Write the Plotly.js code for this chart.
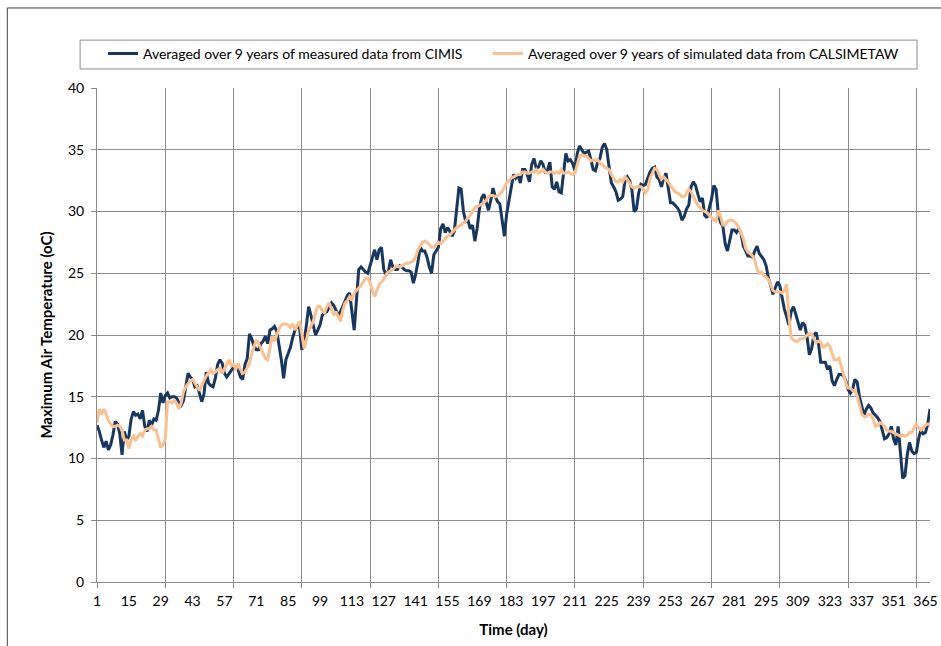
<!DOCTYPE html>
<html>
<head>
<meta charset="utf-8">
<script src="https://cdn.plot.ly/plotly-3.0.1.min.js"></script>
<style>
  html, body { margin: 0; padding: 0; background: #ffffff; }
  #chart { width: 941px; height: 646px; }
</style>
</head>
<body>
<div id="chart"></div>
<script>
// ---- Data ----
const seriesNames = [
  "Averaged over 9 years of measured data from CIMIS",
  "Averaged over 9 years of simulated data from CALSIMETAW"
];

const xTickLabels = [1, 15, 29, 43, 57, 71, 85, 99, 113, 127, 141, 155, 169, 183, 197, 211, 225, 239, 253, 267, 281, 295, 309, 323, 337, 351, 365];
const xGridDays = [1, 31, 61, 91, 121, 151, 181, 211, 241, 271, 301, 331, 361];
const yTickValues = [0, 5, 10, 15, 20, 25, 30, 35, 40];

// measured (CIMIS), day 1 .. 367
const measured = [
  12.7, 12.2, 11.5, 10.9, 11.4, 10.7, 11.1, 11.9, 13.0, 12.8,
  12.0, 10.3, 12.2, 11.5, 11.8, 13.2, 13.8, 13.5, 13.6, 13.2,
  13.9, 12.6, 12.2, 13.1, 12.7, 13.2, 13.1, 13.9, 15.3, 14.5,
  15.1, 15.3, 14.9, 15.0, 15.0, 14.9, 14.5, 14.3, 14.7, 15.9,
  16.9, 16.6, 16.4, 15.8, 15.9, 15.3, 14.6, 15.2, 17.0, 16.1,
  15.9, 15.8, 16.5, 17.6, 18.0, 17.7, 16.9, 16.6, 16.9, 17.2,
  17.4, 17.4, 17.2, 16.6, 16.4, 17.6, 18.1, 20.1, 19.7, 19.1,
  18.8, 18.8, 19.3, 19.5, 19.9, 19.3, 20.4, 20.5, 20.7, 20.3,
  19.2, 18.0, 16.5, 18.0, 18.5, 19.0, 19.8, 20.4, 20.7, 20.6,
  18.8, 19.5, 20.8, 22.3, 21.6, 20.8, 20.0, 20.4, 20.8, 21.6,
  21.8, 21.9, 22.3, 22.6, 22.4, 22.0, 21.6, 21.9, 22.3, 22.7,
  23.2, 23.4, 21.8, 20.4, 22.8, 25.3, 25.5, 25.3, 25.1, 25.0,
  25.6, 26.3, 26.9, 26.1, 26.9, 27.1, 25.3, 24.9, 25.1, 26.1,
  25.5, 25.3, 25.3, 25.6, 25.5, 25.3, 25.2, 25.2, 25.1, 24.2,
  24.9, 25.9, 27.1, 26.8, 26.8, 26.3, 25.5, 25.0, 26.5, 26.8,
  27.1, 28.6, 29.0, 28.3, 28.7, 28.4, 28.0, 28.4, 30.3, 31.9,
  31.8, 30.0, 29.2, 29.3, 28.6, 28.9, 27.6, 28.6, 30.2, 31.1,
  31.4, 30.7, 30.1, 30.9, 31.9, 31.2, 30.8, 30.6, 29.1, 28.0,
  29.8, 31.0, 32.0, 33.0, 32.7, 33.0, 32.3, 33.4, 33.4, 33.0,
  32.4, 33.8, 34.3, 33.5, 33.6, 34.1, 33.8, 33.1, 33.4, 34.0,
  32.0, 31.8, 32.4, 31.6, 31.5, 33.0, 34.7, 34.1, 34.2, 33.9,
  33.3, 34.7, 35.3, 35.0, 34.7, 34.8, 34.9, 34.2, 33.4, 33.3,
  34.0, 34.3, 35.2, 35.5, 35.0, 33.6, 32.3, 32.0, 31.6, 30.9,
  31.0, 31.2, 32.5, 32.8, 32.5, 31.8, 30.0, 30.2, 31.5, 32.2,
  32.1, 32.2, 32.8, 33.2, 33.5, 33.6, 32.8, 32.6, 32.0, 32.7,
  33.1, 32.0, 30.7, 30.7, 30.5, 30.3, 30.0, 29.3, 29.6, 30.2,
  30.5, 32.0, 32.4, 32.1, 31.4, 30.8, 31.1, 29.7, 29.5, 30.2,
  31.0, 32.1, 31.8, 29.8, 29.1, 28.8, 27.4, 26.8, 27.8, 28.5,
  28.5, 28.3, 28.6, 28.2, 27.2, 26.8, 26.4, 26.4, 26.3, 26.8,
  27.2, 26.6, 26.3, 26.1, 25.6, 24.6, 24.0, 23.3, 23.8, 24.3,
  24.0, 23.0, 22.1, 21.5, 20.8, 21.9, 22.3, 21.7, 21.0, 20.4,
  21.0, 20.8, 19.8, 18.4, 18.9, 20.0, 20.2, 19.3, 17.8, 17.8,
  17.8, 17.2, 17.5, 16.3, 15.9, 16.4, 16.8, 16.8, 16.7, 16.3,
  15.6, 15.3, 15.6, 16.4, 16.2, 15.0, 14.3, 13.5, 14.0, 14.3,
  14.1, 13.7, 13.5, 13.3, 13.0, 12.4, 11.6, 11.7, 12.0, 12.6,
  11.6, 11.1, 12.6, 10.5, 8.4, 8.6, 10.3, 11.3, 10.6, 10.4,
  10.5, 11.6, 12.3, 12.0, 12.1, 12.8, 14.0
];

// simulated (CALSIMETAW), day 1 .. 367
const simulated = [
  12.9, 14.0, 13.6, 14.0, 13.6, 13.1, 12.8, 12.6, 12.6, 12.7,
  12.6, 12.3, 11.5, 11.5, 10.8, 11.5, 11.8, 11.5, 11.8, 12.0,
  11.8, 12.3, 12.4, 12.4, 12.6, 12.3, 12.3, 11.5, 10.9, 11.1,
  11.6, 14.6, 14.6, 14.5, 14.7, 14.5, 14.0, 14.5, 15.4, 15.8,
  16.1, 16.3, 16.4, 16.1, 15.7, 15.5, 15.9, 16.3, 16.7, 16.9,
  17.2, 16.9, 17.0, 17.2, 17.3, 16.9, 17.3, 17.6, 18.0, 17.5,
  17.6, 17.2, 17.7, 17.2, 16.9, 17.0, 17.3, 17.7, 18.5, 19.1,
  19.6, 19.3, 18.9, 18.5, 18.1, 18.0, 19.0, 19.9, 19.5, 20.1,
  20.5, 20.8, 20.9, 20.9, 20.8, 20.6, 20.9, 20.4, 20.7, 21.1,
  20.1, 18.9, 19.6, 20.4, 20.7, 21.1, 21.8, 22.3, 22.3, 21.9,
  21.8, 22.3, 22.6, 22.0, 21.6, 21.9, 21.5, 21.1, 22.0, 22.6,
  22.8, 23.1, 22.8, 23.4, 23.6, 23.8, 24.0, 24.3, 24.6, 24.6,
  24.2, 23.6, 23.1, 23.6, 24.1, 24.3, 24.5, 24.9, 25.1, 25.2,
  25.3, 25.5, 25.6, 25.5, 25.6, 25.7, 25.8, 25.8, 25.9, 26.0,
  26.3, 26.9, 27.2, 27.5, 27.6, 27.5, 27.3, 27.1, 27.1, 27.3,
  27.5, 27.4, 27.6, 27.8, 28.0, 28.1, 28.3, 28.5, 28.7, 28.8,
  28.9, 29.1, 29.2, 29.5, 29.7, 30.0, 30.3, 30.4, 30.5, 30.6,
  30.7, 30.9, 31.2, 31.3, 31.3, 31.2, 31.3, 31.4, 31.6, 32.0,
  32.3, 32.5, 32.7, 32.8, 32.9, 33.0, 33.0, 33.2, 33.2, 33.1,
  33.1, 33.2, 33.2, 33.4, 33.1, 33.2, 33.4, 33.2, 33.1, 33.2,
  33.2, 33.1, 33.2, 33.1, 33.4, 33.1, 33.1, 33.2, 33.1, 33.0,
  33.1, 33.9, 34.5, 34.6, 34.5, 34.5, 34.3, 34.1, 34.2, 34.1,
  34.2, 33.9, 33.8, 33.6, 33.5, 33.4, 33.0, 32.7, 32.4, 32.4,
  32.6, 32.4, 32.8, 32.6, 32.3, 32.0, 31.9, 32.0, 32.0, 32.0,
  31.8, 31.5, 31.8, 32.7, 33.1, 33.5, 33.4, 33.0, 32.6, 32.8,
  32.6, 32.4, 32.1, 31.8, 31.6, 31.5, 31.4, 31.2, 31.2, 31.5,
  31.8, 31.6, 31.2, 30.8, 30.5, 30.3, 30.1, 30.0, 29.9, 29.7,
  29.5, 29.3, 29.2, 30.1, 29.6, 28.9, 28.9, 29.2, 29.3, 29.3,
  29.2, 29.0, 28.7, 28.3, 27.8, 27.0, 26.7, 26.6, 26.4, 26.1,
  25.3, 25.0, 25.1, 24.8, 24.7, 24.5, 24.0, 23.6, 23.5, 23.5,
  23.5, 23.4, 23.6, 24.1, 21.5, 19.8, 19.6, 19.5, 19.5, 19.7,
  19.7, 19.8, 20.0, 20.1, 20.1, 19.7, 19.4, 19.5, 19.4, 19.0,
  19.1, 19.3, 19.1, 18.5, 18.0, 18.0, 18.1, 17.5, 16.7, 16.1,
  15.7, 15.7, 15.5, 15.5, 15.1, 14.3, 13.6, 13.4, 13.4, 13.6,
  13.5, 13.2, 12.6, 12.7, 12.9, 12.8, 12.6, 12.3, 12.2, 12.2,
  12.1, 12.0, 11.9, 11.8, 11.9, 11.8, 11.9, 12.1, 12.1, 12.4,
  12.8, 12.5, 12.3, 12.5, 12.7, 12.8, 12.8
];

// day index for each value (1, 2, 3, ...)
const days = measured.map((_, i) => i + 1);

// ---- Styling ----
const FONT = "Lato, 'Open Sans', 'DejaVu Sans', sans-serif";
const GRID = "#8c8c8c";
const xRange = [1, 367];

const traces = [
  {
    type: "scatter", mode: "lines", name: seriesNames[0],
    x: days, y: measured, xaxis: "x", yaxis: "y",
    line: { color: "#17375E", width: 3 },
    legendwidth: 340
  },
  {
    type: "scatter", mode: "lines", name: seriesNames[1],
    x: days, y: simulated, xaxis: "x", yaxis: "y",
    line: { color: "#FAC090", width: 3 },
    legendwidth: 400
  },
  // empty helper trace so the grid axis gets drawn
  { type: "scatter", mode: "lines", x: [], y: [], xaxis: "x2", yaxis: "y", showlegend: false, hoverinfo: "skip" }
];

const layout = {
  width: 941, height: 646,
  margin: { l: 97, r: 8, t: 88, b: 64 },
  paper_bgcolor: "#ffffff",
  plot_bgcolor: "#ffffff",
  font: { family: FONT, size: 14, color: "#000000" },
  showlegend: true,
  legend: {
    orientation: "h",
    x: 0.0072, xanchor: "left",
    y: 1.069, yanchor: "middle",
    bgcolor: "rgba(0,0,0,0)",
    borderwidth: 0,
    font: { family: FONT, size: 14, color: "#000000" },
    traceorder: "normal"
  },
  xaxis: {
    range: xRange,
    tickmode: "array",
    tickvals: xTickLabels,
    ticktext: xTickLabels.map(String),
    ticks: "",
    showgrid: false,
    zeroline: false,
    showline: true, linecolor: GRID, linewidth: 1,
    tickfont: { family: FONT, size: 14, color: "#000000" },
    ticklabelstandoff: 6,
    title: { text: "<b>Time (day)</b>", font: { family: FONT, size: 15, color: "#000000" }, standoff: 16 }
  },
  xaxis2: {
    range: xRange,
    overlaying: "x",
    anchor: "y",
    side: "bottom",
    tickmode: "array",
    tickvals: xGridDays,
    showticklabels: false,
    ticks: "outside", ticklen: 5, tickcolor: GRID, tickwidth: 1,
    showgrid: true, gridcolor: GRID, gridwidth: 1,
    zeroline: false, showline: false
  },
  yaxis: {
    range: [0, 40],
    tickmode: "array",
    tickvals: yTickValues,
    ticks: "outside", ticklen: 5, tickcolor: GRID, tickwidth: 1,
    showgrid: true, gridcolor: GRID, gridwidth: 1,
    zeroline: false,
    showline: true, linecolor: GRID, linewidth: 1,
    tickfont: { family: FONT, size: 14, color: "#000000" },
    ticklabelstandoff: 4,
    title: { text: "<b>Maximum Air Temperature (oC)</b>", font: { family: FONT, size: 15, color: "#000000" }, standoff: 11 }
  },
  shapes: [
    // legend frame
    { type: "rect", xref: "paper", yref: "paper",
      x0: -0.0203, x1: 0.9844, y0: 1.0385, y1: 1.097,
      line: { color: GRID, width: 1 }, fillcolor: "rgba(0,0,0,0)", layer: "above" },
    // outer chart frame
    { type: "rect", xref: "paper", yref: "paper",
      x0: -0.1077, x1: 1.02, y0: -0.14, y1: 1.162,
      line: { color: "#404040", width: 1 }, fillcolor: "rgba(0,0,0,0)", layer: "above" }
  ]
};

Plotly.newPlot("chart", traces, layout, { staticPlot: true, displayModeBar: false });
</script>
</body>
</html>
